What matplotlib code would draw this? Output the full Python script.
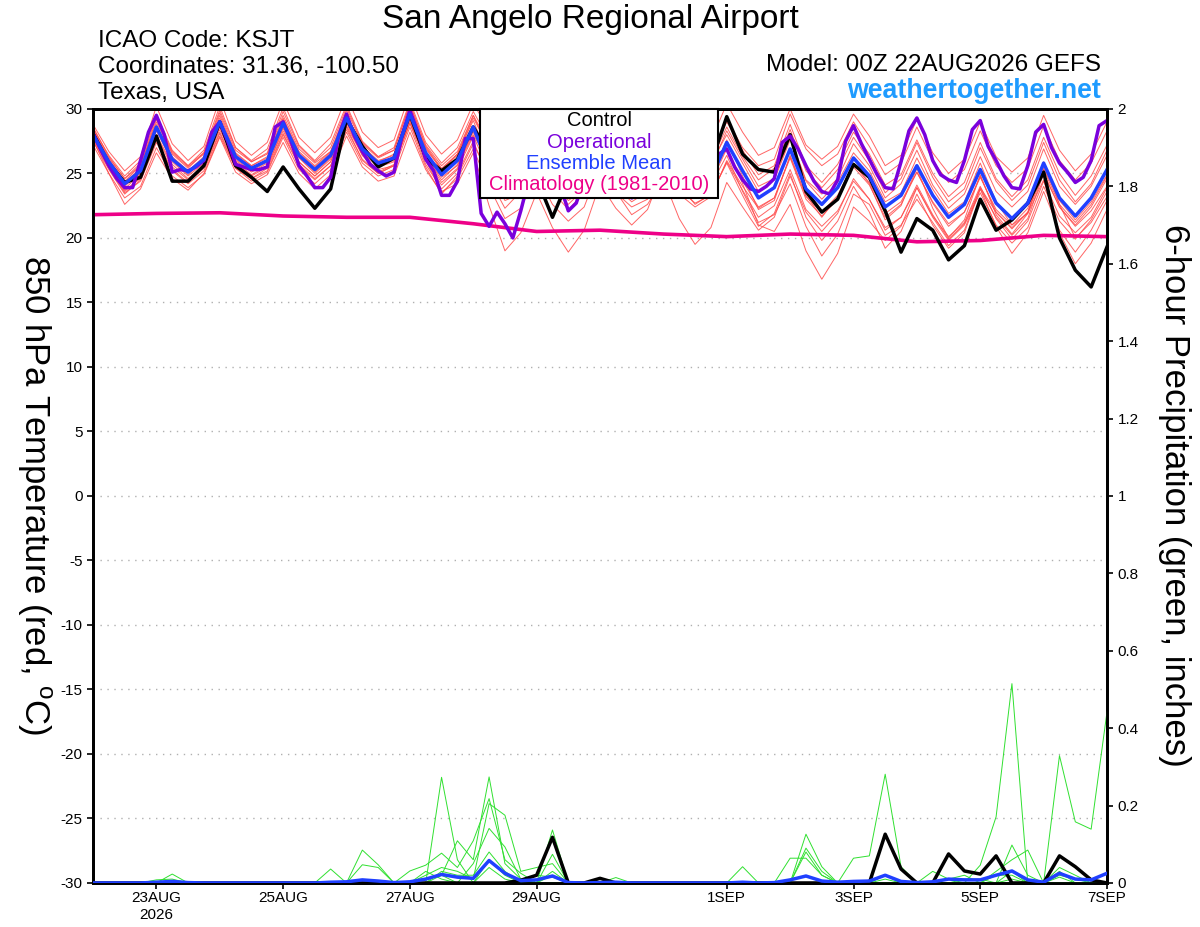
import numpy as np
import pandas as pd
import matplotlib
matplotlib.use('agg')
import matplotlib.pyplot as plt
from matplotlib.patches import Rectangle

plt.rcParams['font.family'] = ['Liberation Sans', 'DejaVu Sans']

# 6-hourly GEFS times, 3-hourly for the operational run
times = pd.date_range('2026-08-22 00:00', periods=65, freq='6h')
op_times = pd.date_range('2026-08-22 00:00', periods=129, freq='3h')
clim_times = pd.date_range('2026-08-22 00:00', periods=17, freq='1D')

control_t = [28.1, 25.8, 24.3, 24.7, 27.9, 24.4, 24.4, 25.6, 29.0, 25.6, 24.7, 23.6, 25.5, 23.8, 22.3, 23.8,
             29.2, 27.1, 25.5, 26.2, 29.6, 26.2, 25.2, 26.1, 28.6, 26.5, 25.0, 25.8, 24.6, 21.6, 24.5, 25.3,
             27.8, 25.8, 24.6, 25.4, 28.0, 25.9, 24.8, 25.8, 29.4, 26.5, 25.3, 25.1, 28.0, 23.6, 22.0, 23.0,
             25.7, 24.7, 22.1, 18.9, 21.5, 20.6, 18.3, 19.4, 23.0, 20.6, 21.4, 22.7, 25.1, 20.0, 17.5, 16.2, 19.3]

mean_t = [28.0, 25.9, 24.2, 25.2, 28.6, 26.1, 25.1, 26.1, 29.0, 26.3, 25.4, 26.0, 28.9, 26.4, 25.3, 26.4,
          29.3, 26.9, 25.8, 26.2, 29.6, 26.6, 24.9, 26.0, 28.6, 25.5, 24.0, 24.5, 26.8, 24.3, 23.8, 24.5,
          26.8, 24.8, 23.8, 24.5, 26.8, 24.8, 23.8, 24.6, 27.4, 25.2, 23.1, 23.9, 26.9, 23.8, 22.6, 23.9,
          26.2, 24.8, 22.4, 23.3, 25.6, 23.3, 21.6, 22.6, 25.3, 22.7, 21.5, 22.7, 25.8, 23.1, 21.7, 23.1, 25.3]

op_t = [28.1, 26.8, 25.6, 24.6, 23.9, 23.9, 26.0, 28.2, 29.5, 28.0, 25.1, 25.3, 25.2, 25.5, 26.0, 28.2,
        29.0, 27.5, 25.7, 25.5, 25.3, 25.3, 25.5, 28.6, 29.0, 27.5, 25.6, 24.8, 23.9, 23.9, 24.7, 27.9,
        29.6, 27.9, 26.7, 25.7, 25.2, 24.8, 25.1, 27.9, 29.9, 28.2, 26.1, 25.2, 23.3, 23.3, 24.4, 27.7,
        27.7, 21.9, 20.9, 22.0, 21.1, 20.0, 22.1, 24.5, 26.5, 27.0, 25.5, 24.0, 22.1, 22.7, 24.5, 27.0,
        28.0, 27.0, 25.0, 23.8, 23.1, 23.4, 25.0, 27.5, 28.5, 27.5, 25.5, 24.5, 24.0, 24.0, 25.0, 26.5,
        26.9, 25.5, 24.5, 23.8, 23.6, 24.0, 24.6, 27.4, 27.9, 26.9, 25.6, 24.4, 23.6, 23.4, 24.5, 27.5,
        28.7, 27.3, 26.1, 24.9, 23.9, 23.8, 25.9, 28.3, 29.3, 28.0, 26.0, 24.9, 24.5, 24.3, 26.0, 28.4,
        29.1, 27.1, 26.0, 24.8, 23.9, 23.8, 25.6, 28.2, 28.8, 27.0, 25.8, 25.1, 24.3, 24.7, 26.0, 28.7, 29.1]

clim_t = [21.8, 21.9, 21.95, 21.7, 21.6, 21.6, 21.1, 20.5, 20.6, 20.3, 20.1, 20.3, 20.2, 19.7, 19.8, 20.2, 20.1]

members_t = [
    [28.5, 26.4, 24.8, 26.0, 29.6, 26.8, 25.6, 26.8, 30.2, 27.0, 26.0, 26.9, 30.1, 27.2, 26.0, 27.3,
     30.3, 27.5, 26.3, 27.0, 30.6, 27.4, 25.8, 27.0, 29.8, 27.6, 26.1, 26.8, 29.0, 26.6, 25.6, 26.4,
     29.0, 26.9, 25.8, 26.5, 28.9, 26.7, 25.6, 26.4, 29.0, 26.8, 24.9, 25.6, 28.8, 25.6, 24.3, 25.7,
     28.2, 26.5, 24.1, 24.9, 27.6, 25.0, 23.2, 24.3, 27.4, 24.6, 23.2, 24.5, 27.8, 25.0, 23.3, 24.8, 27.2],
    [27.2, 25.0, 23.1, 24.0, 27.0, 24.8, 23.9, 24.9, 27.8, 25.1, 24.2, 24.9, 27.4, 25.0, 23.8, 24.9,
     27.9, 25.5, 24.4, 24.8, 28.2, 25.3, 23.5, 24.6, 26.9, 24.0, 21.5, 22.3, 25.0, 22.6, 21.3, 22.4,
     25.6, 23.5, 22.4, 23.0, 25.8, 23.8, 22.7, 23.3, 25.9, 23.7, 21.6, 22.5, 25.3, 22.2, 20.9, 22.1,
     24.4, 23.0, 20.8, 21.6, 23.9, 21.6, 19.8, 21.0, 23.5, 21.0, 19.6, 20.8, 24.0, 21.3, 19.9, 21.4, 23.6],
    [28.3, 26.1, 24.4, 25.6, 29.0, 26.5, 25.4, 26.6, 29.7, 26.8, 25.9, 26.5, 29.5, 26.9, 25.8, 26.7,
     29.9, 27.3, 26.2, 26.8, 30.3, 27.1, 25.4, 26.5, 29.1, 26.1, 23.8, 24.2, 26.2, 23.8, 22.6, 23.8,
     27.0, 25.0, 23.9, 24.8, 27.9, 25.8, 24.7, 25.5, 28.3, 26.1, 24.0, 24.6, 27.8, 24.5, 23.4, 24.6,
     27.3, 25.6, 23.1, 24.2, 26.8, 24.1, 22.3, 23.4, 26.3, 23.6, 22.4, 23.6, 26.9, 24.0, 22.6, 24.0, 26.4],
    [27.6, 25.0, 22.6, 23.8, 26.6, 24.6, 23.7, 25.0, 27.9, 25.4, 24.6, 25.2, 28.0, 25.6, 24.5, 25.6,
     28.6, 26.0, 25.0, 25.6, 29.1, 26.0, 24.1, 25.3, 27.9, 25.2, 22.9, 23.4, 25.9, 23.6, 22.2, 23.5,
     26.4, 24.3, 23.1, 24.0, 26.9, 24.5, 23.5, 24.3, 26.9, 24.4, 22.4, 23.1, 26.2, 23.0, 21.7, 23.0,
     25.5, 24.1, 21.6, 22.6, 25.1, 22.7, 20.9, 22.0, 24.8, 22.0, 20.7, 22.0, 25.0, 22.4, 21.0, 22.4, 24.6],
    [28.8, 26.7, 25.2, 26.3, 30.2, 27.3, 26.0, 27.1, 30.8, 27.5, 26.4, 27.4, 30.6, 27.8, 26.6, 27.8,
     31.0, 28.2, 27.0, 27.6, 31.2, 28.0, 26.5, 27.6, 30.4, 28.4, 27.2, 27.8, 30.3, 27.9, 26.8, 27.6,
     30.2, 28.0, 26.9, 27.5, 30.0, 27.9, 26.8, 27.5, 30.4, 28.2, 26.4, 27.0, 30.0, 27.2, 26.1, 27.1,
     29.6, 27.9, 25.6, 26.4, 29.2, 26.6, 25.0, 26.1, 29.0, 26.3, 25.1, 26.2, 29.5, 26.8, 25.2, 26.5, 29.0],
    [27.9, 25.7, 23.8, 25.0, 28.3, 25.9, 24.8, 25.8, 28.7, 26.0, 25.1, 25.8, 28.6, 26.2, 25.0, 26.1,
     29.0, 26.6, 25.5, 25.9, 29.4, 26.3, 24.5, 25.7, 28.2, 25.8, 24.4, 25.0, 27.3, 25.0, 24.0, 24.8,
     27.2, 25.1, 24.1, 24.6, 27.0, 24.9, 23.9, 24.7, 27.0, 24.2, 21.0, 20.5, 22.6, 19.0, 16.8, 18.8,
     22.4, 21.3, 19.8, 20.9, 23.9, 21.7, 20.1, 21.2, 24.0, 21.5, 19.9, 21.3, 24.4, 21.7, 20.4, 21.6, 23.9],
    [28.1, 25.8, 24.0, 25.1, 28.5, 26.0, 24.9, 26.0, 28.8, 26.1, 25.2, 25.9, 28.8, 26.3, 25.1, 26.2,
     29.1, 26.7, 25.6, 26.0, 29.2, 26.0, 23.6, 24.2, 26.6, 22.5, 19.0, 20.4, 23.5, 20.8, 18.9, 20.6,
     24.2, 22.3, 21.0, 22.2, 25.4, 23.4, 22.4, 23.2, 26.0, 24.0, 22.3, 23.1, 26.3, 23.2, 22.0, 23.3,
     25.7, 24.3, 21.9, 22.8, 25.1, 22.8, 21.1, 22.0, 24.7, 22.2, 21.0, 22.3, 25.3, 22.6, 21.2, 22.6, 24.8],
    [27.8, 25.6, 23.6, 24.7, 28.0, 25.7, 24.6, 25.6, 28.4, 25.9, 24.9, 25.6, 28.3, 25.9, 24.8, 25.9,
     28.7, 26.4, 25.3, 25.6, 28.9, 26.2, 24.7, 25.6, 28.0, 25.9, 24.6, 25.2, 27.0, 24.7, 23.5, 24.2,
     26.3, 23.6, 21.8, 22.6, 24.6, 21.5, 19.5, 20.8, 24.3, 22.4, 20.6, 21.6, 24.8, 22.0, 20.5, 21.9,
     24.6, 23.0, 20.6, 21.6, 24.1, 21.8, 19.9, 21.1, 23.8, 20.9, 18.8, 20.4, 23.6, 20.6, 18.9, 20.6, 22.9],
    [28.4, 26.2, 24.6, 25.6, 29.2, 26.6, 25.5, 26.5, 29.5, 26.6, 25.6, 26.3, 29.3, 26.7, 25.6, 26.7,
     29.6, 27.1, 26.0, 26.4, 29.9, 26.9, 25.3, 26.4, 29.3, 27.0, 25.6, 26.4, 28.6, 26.2, 25.2, 26.0,
     28.4, 26.2, 25.3, 25.9, 28.4, 26.1, 25.0, 25.8, 28.0, 25.8, 23.6, 24.5, 27.6, 24.4, 23.0, 24.3,
     26.6, 25.2, 22.8, 23.5, 26.2, 23.8, 21.9, 22.8, 25.8, 22.8, 21.0, 21.9, 24.5, 20.4, 18.0, 19.6, 22.2],
    [27.5, 25.3, 23.4, 24.5, 27.6, 25.3, 24.3, 25.4, 28.2, 25.6, 24.6, 25.4, 28.1, 25.7, 24.6, 25.6,
     28.4, 26.1, 25.0, 25.6, 28.9, 25.7, 23.8, 25.0, 27.5, 24.6, 22.3, 23.6, 26.4, 24.2, 23.2, 24.1,
     26.7, 24.6, 23.4, 24.1, 26.6, 24.1, 22.6, 23.4, 25.8, 23.3, 20.9, 21.9, 25.0, 21.6, 19.8, 21.3,
     24.0, 22.0, 19.2, 20.5, 23.4, 21.0, 19.2, 20.4, 23.8, 21.6, 20.2, 21.5, 25.0, 22.4, 20.9, 22.1, 24.0],
    [28.2, 26.0, 24.3, 25.4, 28.8, 26.3, 25.2, 26.3, 29.3, 26.5, 25.6, 26.2, 29.2, 26.6, 25.5, 26.6,
     29.5, 27.0, 25.9, 26.5, 30.0, 27.0, 25.3, 26.5, 29.5, 27.3, 26.1, 26.7, 29.1, 26.5, 25.4, 26.1,
     28.7, 26.5, 25.6, 26.2, 28.9, 26.4, 25.3, 26.0, 29.2, 27.0, 25.6, 26.1, 29.6, 26.9, 25.6, 26.5,
     29.0, 27.1, 24.9, 25.8, 28.6, 26.0, 24.3, 25.3, 28.3, 25.6, 24.3, 25.4, 28.7, 26.0, 24.5, 25.8, 28.3],
    [27.9, 25.5, 23.7, 24.6, 27.9, 25.5, 24.5, 25.5, 28.6, 25.8, 24.8, 25.5, 28.5, 25.9, 24.8, 25.9,
     28.9, 26.4, 25.1, 25.7, 29.2, 26.2, 24.3, 25.4, 28.4, 26.2, 24.8, 25.4, 27.8, 25.1, 23.8, 24.6,
     27.5, 25.5, 24.4, 25.1, 27.6, 25.4, 24.0, 24.8, 27.6, 24.8, 22.2, 22.9, 26.4, 23.3, 21.6, 23.2,
     25.8, 24.2, 21.4, 22.5, 25.4, 22.3, 20.0, 21.4, 24.9, 21.8, 20.3, 21.9, 25.9, 22.6, 20.0, 21.2, 23.2],
    [28.6, 26.3, 24.6, 25.8, 29.4, 26.7, 25.6, 26.6, 29.9, 27.0, 25.9, 26.6, 29.8, 27.1, 25.9, 27.0,
     30.1, 27.4, 26.3, 26.8, 30.4, 27.2, 25.6, 26.7, 29.5, 26.8, 25.0, 25.8, 28.3, 25.9, 24.9, 25.8,
     28.8, 26.7, 25.6, 26.2, 28.6, 26.3, 25.1, 25.9, 28.6, 26.3, 24.5, 25.4, 28.4, 25.2, 23.9, 25.3,
     27.8, 26.0, 23.5, 24.6, 27.4, 24.7, 22.8, 23.8, 27.0, 24.4, 22.9, 24.1, 27.4, 24.5, 22.8, 24.2, 26.8],
    [27.7, 25.4, 23.5, 24.4, 27.4, 25.2, 24.2, 25.2, 28.1, 25.4, 24.4, 25.1, 27.8, 25.3, 24.2, 25.3,
     28.2, 25.8, 24.8, 25.3, 28.6, 25.5, 23.4, 24.8, 27.3, 24.9, 23.5, 24.3, 26.7, 24.4, 22.9, 23.7,
     26.0, 24.0, 22.8, 23.6, 26.3, 24.2, 23.3, 24.1, 26.4, 23.6, 21.2, 21.8, 24.2, 20.9, 18.6, 20.3,
     23.4, 22.6, 20.2, 21.0, 23.0, 21.2, 19.4, 20.6, 23.9, 22.0, 20.8, 22.0, 25.4, 22.9, 21.4, 22.8, 24.9],
]

control_p = [0, 0, 0, 0, 0, 0, 0, 0, 0, 0, 0, 0, 0, 0, 0, 0,
             0, 0, 0, 0, 0, 0, 0, 0, 0, 0, 0, 0.007, 0.02, 0.118, 0, 0,
             0.012, 0, 0, 0, 0, 0, 0, 0, 0, 0, 0, 0, 0, 0, 0, 0,
             0, 0, 0.126, 0.036, 0, 0, 0.075, 0.031, 0.023, 0.07, 0, 0, 0, 0.07, 0.042, 0.008, 0]

mean_p = [0, 0, 0, 0, 0.002, 0.004, 0.001, 0, 0, 0, 0, 0, 0, 0, 0, 0.002,
          0.003, 0.008, 0.005, 0.001, 0.003, 0.01, 0.022, 0.015, 0.012, 0.058, 0.025, 0.006, 0.008, 0.018, 0.001, 0,
          0.001, 0.002, 0, 0, 0, 0, 0, 0, 0, 0.002, 0, 0.001, 0.008, 0.018, 0.005, 0.002,
          0.004, 0.005, 0.02, 0.004, 0.001, 0.003, 0.01, 0.008, 0.008, 0.02, 0.031, 0.008, 0.002, 0.025, 0.01, 0.008, 0.025]

members_p = [
    [0, 0, 0, 0, 0, 0.023, 0, 0, 0, 0, 0, 0, 0, 0, 0, 0,
     0, 0.085, 0.047, 0, 0, 0, 0.273, 0.06, 0, 0.04, 0.01, 0, 0, 0, 0, 0,
     0, 0, 0, 0, 0, 0, 0, 0, 0, 0, 0, 0, 0, 0, 0, 0,
     0, 0, 0, 0, 0, 0, 0, 0, 0.046, 0.171, 0.515, 0, 0, 0.329, 0.158, 0.139, 0.442],
    [0, 0, 0, 0, 0.008, 0.01, 0, 0, 0, 0, 0, 0, 0, 0, 0, 0.036,
     0, 0.047, 0.04, 0, 0, 0, 0.02, 0.109, 0.06, 0.274, 0.05, 0.01, 0, 0.137, 0, 0,
     0, 0, 0, 0, 0, 0, 0, 0, 0, 0, 0, 0, 0.064, 0.064, 0.02, 0,
     0, 0, 0.02, 0, 0, 0, 0, 0, 0, 0, 0.098, 0.02, 0, 0, 0, 0, 0],
    [0, 0, 0, 0, 0, 0, 0, 0, 0, 0, 0, 0, 0, 0, 0, 0,
     0, 0, 0, 0, 0.031, 0.046, 0.077, 0.04, 0.109, 0.218, 0.06, 0.025, 0, 0.074, 0, 0,
     0, 0.014, 0, 0, 0, 0, 0, 0, 0, 0, 0, 0, 0, 0.126, 0.042, 0,
     0.064, 0.07, 0.281, 0.042, 0, 0, 0, 0, 0, 0, 0, 0, 0, 0, 0, 0, 0],
    [0, 0, 0, 0, 0, 0, 0, 0, 0, 0, 0, 0, 0, 0, 0, 0,
     0, 0, 0, 0, 0, 0.02, 0.04, 0.03, 0.01, 0.205, 0.175, 0.03, 0.04, 0.05, 0, 0,
     0, 0, 0, 0, 0, 0, 0, 0, 0, 0.042, 0, 0, 0, 0, 0, 0,
     0, 0, 0, 0, 0, 0.03, 0.01, 0, 0, 0.03, 0.06, 0.085, 0, 0.04, 0.02, 0, 0],
    [0, 0, 0, 0, 0, 0, 0, 0, 0, 0, 0, 0, 0, 0, 0, 0,
     0, 0, 0, 0, 0, 0.03, 0.01, 0, 0.05, 0.141, 0.093, 0.01, 0, 0.03, 0, 0,
     0, 0, 0, 0, 0, 0, 0, 0, 0, 0, 0, 0, 0, 0.09, 0.03, 0,
     0, 0, 0.01, 0, 0, 0, 0, 0, 0, 0.02, 0.02, 0, 0, 0.03, 0, 0, 0],
    [0, 0, 0, 0, 0, 0, 0, 0, 0, 0, 0, 0, 0, 0, 0, 0,
     0, 0, 0, 0, 0, 0, 0.03, 0.02, 0.02, 0.08, 0.03, 0, 0, 0.02, 0, 0,
     0, 0, 0, 0, 0, 0, 0, 0, 0, 0, 0, 0, 0, 0.08, 0.02, 0,
     0, 0, 0, 0, 0, 0, 0.01, 0.02, 0, 0, 0.03, 0, 0, 0.02, 0.01, 0, 0],
    [0, 0, 0, 0, 0, 0, 0, 0, 0, 0, 0, 0, 0, 0, 0, 0,
     0, 0, 0, 0, 0, 0.01, 0.02, 0, 0, 0.06, 0.02, 0, 0.02, 0.015, 0, 0,
     0, 0, 0, 0, 0, 0, 0, 0, 0, 0, 0, 0, 0, 0, 0, 0,
     0, 0, 0, 0, 0, 0, 0, 0.01, 0.01, 0, 0.01, 0, 0, 0.015, 0, 0, 0],
]

tick_dates = ['2026-08-23', '2026-08-25', '2026-08-27', '2026-08-29',
              '2026-09-01', '2026-09-03', '2026-09-05', '2026-09-07']
tick_labels = ['23AUG\n2026', '25AUG', '27AUG', '29AUG', '1SEP', '3SEP', '5SEP', '7SEP']
left_ticks = list(range(-30, 31, 5))
right_ticks = [0, 0.2, 0.4, 0.6, 0.8, 1.0, 1.2, 1.4, 1.6, 1.8, 2.0]
right_labels = ['0', '0.2', '0.4', '0.6', '0.8', '1', '1.2', '1.4', '1.6', '1.8', '2']
legend_labels = ['Control', 'Operational', 'Ensemble Mean', 'Climatology (1981-2010)']

RED = '#ff4a4a'
PURPLE = '#7a00dc'
BLUE = '#2040ff'
PINK = '#ee0088'
GREEN = '#30e030'

fig = plt.figure(figsize=(12, 9.27), dpi=100)
ax = fig.add_axes([0.0775, 0.0475, 0.845, 0.835])

for m in members_t:
    ax.plot(times, m, color=RED, lw=0.7, alpha=0.85, zorder=1)
ax.plot(clim_times, clim_t, color=PINK, lw=2.6, zorder=3)
ax.plot(times, control_t, color='black', lw=2.5, zorder=4)
ax.plot(op_times, op_t, color=PURPLE, lw=2.5, zorder=5)
ax.plot(times, mean_t, color=BLUE, lw=2.5, zorder=6)

ax.set_ylim(-30, 30)
ax.set_xlim(times[0], times[-1])
ax.set_yticks(left_ticks)
ax.set_yticklabels([str(v) for v in left_ticks])
ax.set_xticks(pd.to_datetime(tick_dates))
ax.set_xticklabels(tick_labels)
for v in left_ticks:
    ax.axhline(v, color='#b0b0b0', lw=1.0, ls=(0, (1, 4)), zorder=0)
ax.tick_params(axis='both', labelsize=11, length=4, width=1.2, direction='out')
ax.tick_params(axis='x', pad=2)

ax2 = ax.twinx()
for m in members_p:
    ax2.plot(times, m, color=GREEN, lw=0.7, zorder=1)
ax2.plot(times, control_p, color='black', lw=2.5, zorder=4)
ax2.plot(times, mean_p, color=BLUE, lw=2.5, zorder=5)
ax2.set_ylim(0, 2)
ax2.set_yticks(right_ticks)
ax2.set_yticklabels(right_labels)
ax2.tick_params(axis='y', labelsize=11, length=4, width=1.2, direction='out')

for a in (ax, ax2):
    for s in a.spines.values():
        s.set_linewidth(2.0)
        s.set_color('black')

# legend box, hanging from the top of the plot
leg_x0 = (480 - 93) / 1014
leg_x1 = (718 - 93) / 1014
leg_y0 = (883 - 198) / 774
ax2.add_patch(Rectangle((leg_x0, leg_y0), leg_x1 - leg_x0, 1 - leg_y0,
                        transform=ax2.transAxes, fc='white', ec='black', lw=1.5, zorder=10,
                        clip_on=False))
leg_colors = ['black', PURPLE, BLUE, PINK]
for k, (txt, col) in enumerate(zip(legend_labels, leg_colors)):
    ax2.text((leg_x0 + leg_x1) / 2, (883 - (121 + 21.3 * k)) / 774, txt,
             transform=ax2.transAxes, ha='center', va='center', fontsize=14.5,
             color=col, zorder=11)

fig.text(0.4917, 0.9785, 'San Angelo Regional Airport', ha='center', va='center', fontsize=24)
fig.text(0.0817, 0.9555, 'ICAO Code: KSJT', ha='left', va='center', fontsize=17.5)
fig.text(0.0817, 0.9275, 'Coordinates: 31.36, -100.50', ha='left', va='center', fontsize=17.5)
fig.text(0.0817, 0.8995, 'Texas, USA', ha='left', va='center', fontsize=17.5)
fig.text(0.9175, 0.930, 'Model: 00Z 22AUG2026 GEFS', ha='right', va='center', fontsize=17.5)
fig.text(0.9175, 0.902, 'weathertogether.net', ha='right', va='center', fontsize=19.3,
         fontweight='bold', color='#1e9bff')
fig.text(0.0285, 0.466, r'850 hPa Temperature (red, $^{\mathregular{o}}$C)', rotation=270,
         ha='center', va='center', fontsize=25)
fig.text(0.979, 0.466, '6-hour Precipitation (green, inches)', rotation=270,
         ha='center', va='center', fontsize=25)

fig.savefig('out.png', dpi=100)
